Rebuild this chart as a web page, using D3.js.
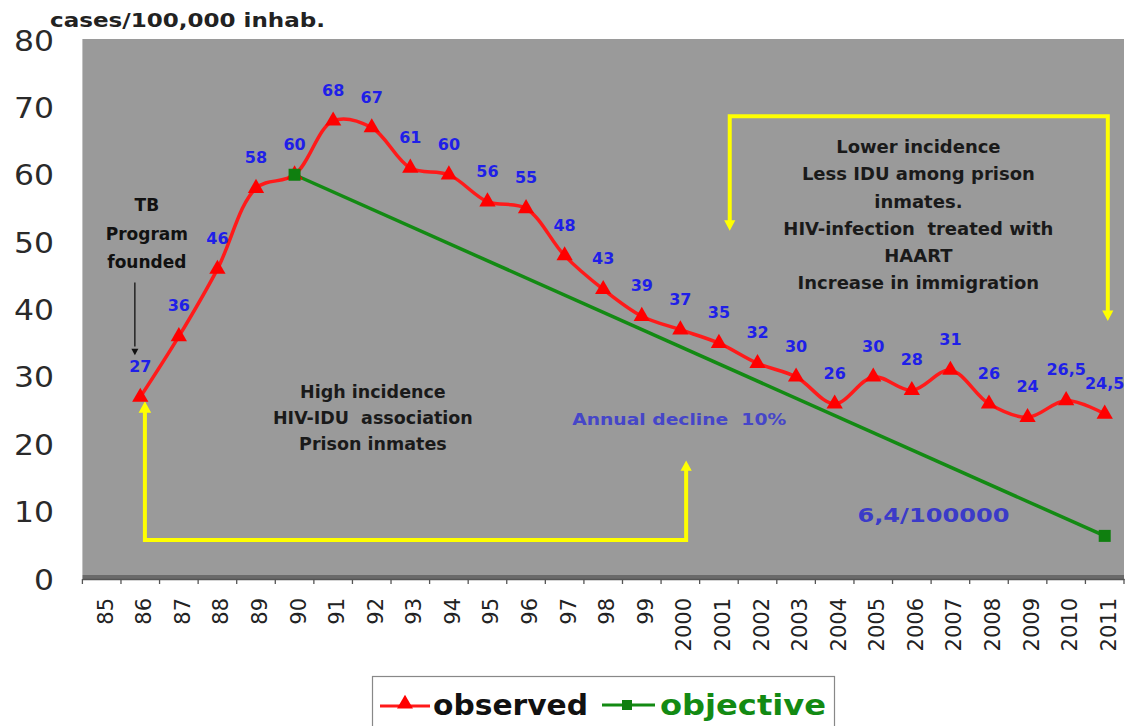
<!DOCTYPE html>
<html>
<head>
<meta charset="utf-8">
<script src="https://cdn.jsdelivr.net/npm/d3@7/dist/d3.min.js"></script>
<style>
  html, body { margin: 0; padding: 0; background: #ffffff; }
  svg { display: block; }
  text { font-family: "DejaVu Sans", Verdana, sans-serif; white-space: pre; }
</style>
</head>
<body>
<svg id="chart" width="1134" height="726"></svg>
<script>
// ---- Data ----
const years = ["85","86","87","88","89","90","91","92","93","94","95","96","97","98","99",
               "2000","2001","2002","2003","2004","2005","2006","2007","2008","2009","2010","2011"];
const observedYears = ["86","87","88","89","90","91","92","93","94","95","96","97","98","99",
               "2000","2001","2002","2003","2004","2005","2006","2007","2008","2009","2010","2011"];
const observedValues = [27,36,46,58,60,68,67,61,60,56,55,48,43,39,37,35,32,30,26,30,28,31,26,24,26.5,24.5];
const observedLabels = ["27","36","46","58","60","68","67","61","60","56","55","48","43","39","37","35","32","30","26","30","28","31","26","24","26,5","24,5"];
const objectiveYears = ["90","2011"];
const objectiveValues = [60, 6.4];
const yTicks = [0,10,20,30,40,50,60,70,80];

// ---- Layout ----
const svg = d3.select("#chart");
const plot = { left: 82.4, right: 1124, top: 40, bottom: 579 };

const x = d3.scaleBand().domain(years).range([plot.left, plot.right]).padding(0);
const xc = d => x(d) + x.bandwidth() / 2;
// index-based helper for annotations (category index, fractional)
const xi = i => plot.left + x.bandwidth() * (i + 0.5);
const y = d3.scaleLinear().domain([0, 80]).range([plot.bottom, plot.top]);

// Plot background
svg.append("rect")
  .attr("x", plot.left).attr("y", plot.top - 1)
  .attr("width", plot.right - plot.left).attr("height", plot.bottom - plot.top - 3)
  .attr("fill", "#9a9a9a");

// bottom axis line (dark band) + ticks
svg.append("rect")
  .attr("x", plot.left).attr("y", plot.bottom - 4)
  .attr("width", plot.right - plot.left).attr("height", 4)
  .attr("fill", "#6a6a6a");
const xAxis = d3.axisBottom(x).tickSize(0).tickFormat("");
const xAxisG = svg.append("g").attr("transform", `translate(0,${plot.bottom})`).call(xAxis);
xAxisG.select(".domain").attr("stroke", "#555").attr("stroke-width", 1.5);
// boundary ticks
const bounds = years.map(d => x(d)).concat([plot.right]);
svg.append("g").selectAll("line").data(bounds).join("line")
  .attr("x1", d => d).attr("x2", d => d)
  .attr("y1", plot.bottom).attr("y2", plot.bottom + 5)
  .attr("stroke", "#555").attr("stroke-width", 1.3);

// x labels rotated
svg.append("g").selectAll("text").data(years).join("text")
  .attr("transform", d => `translate(${xc(d) + 11},598) rotate(-90)`)
  .attr("text-anchor", "end")
  .attr("font-size", 21)
  .attr("fill", "#222")
  .text(d => d);

// y labels
const yAxis = d3.axisLeft(y).tickValues(yTicks).tickSize(0).tickPadding(0);
const yAxisG = svg.append("g").attr("transform", `translate(54,0)`).call(yAxis);
yAxisG.select(".domain").remove();
yAxisG.selectAll("text")
  .attr("font-family", "Liberation Sans, Arial, sans-serif")
  .attr("font-size", 28)
  .attr("fill", "#2a2a2a")
  .attr("dy", "0.36em")
  .attr("textLength", d => String(d).length * 20)
  .attr("lengthAdjust", "spacingAndGlyphs");

// Title
svg.append("text")
  .attr("x", 50).attr("y", 27)
  .attr("font-size", 20).attr("font-weight", "bold").attr("fill", "#222")
  .attr("textLength", 275).attr("lengthAdjust", "spacingAndGlyphs")
  .text("cases/100,000 inhab.");

// ---- Annotations (yellow brackets) ----
const yellow = "#ffff00";
function arrowHead(g, px, py, dir, color, size) {
  const s = size || 9;
  const pts = dir === "up"
    ? [[px, py], [px - s * 0.7, py + s * 1.3], [px + s * 0.7, py + s * 1.3]]
    : [[px, py], [px - s * 0.7, py - s * 1.3], [px + s * 0.7, py - s * 1.3]];
  g.append("polygon").attr("points", pts.map(p => p.join(",")).join(" ")).attr("fill", color);
}
const ann = svg.append("g");
// lower-left bracket
ann.append("path")
  .attr("d", d3.line()([[xi(1.12), y(25)], [xi(1.12), y(5.8)], [xi(15.15), y(5.8)], [xi(15.15), y(16.4)]]))
  .attr("fill", "none").attr("stroke", yellow).attr("stroke-width", 4);
arrowHead(ann, xi(1.12), y(26.4), "up", yellow, 9);
arrowHead(ann, xi(15.15), y(17.6), "up", yellow, 8);
// upper-right bracket
ann.append("path")
  .attr("d", d3.line()([[xi(16.28), y(53)], [xi(16.28), y(68.7)], [xi(26.08), y(68.7)], [xi(26.08), y(39.5)]]))
  .attr("fill", "none").attr("stroke", yellow).attr("stroke-width", 4);
arrowHead(ann, xi(16.28), y(51.7), "down", yellow, 8);
arrowHead(ann, xi(26.08), y(38.3), "down", yellow, 8);

// TB arrow (black)
ann.append("line")
  .attr("x1", xi(0.86)).attr("x2", xi(0.86))
  .attr("y1", y(44)).attr("y2", y(34.5))
  .attr("stroke", "#111").attr("stroke-width", 1.3);
arrowHead(ann, xi(0.86), y(33.2), "down", "#111", 5);

// ---- Objective line ----
const objData = objectiveYears.map((d, i) => ({ year: d, v: objectiveValues[i] }));
svg.append("path")
  .datum(objData)
  .attr("d", d3.line().x(d => xc(d.year)).y(d => y(d.v)))
  .attr("fill", "none").attr("stroke", "#138a13").attr("stroke-width", 3.5);

// ---- Observed line ----
const obsData = observedYears.map((d, i) => ({ year: d, v: observedValues[i], label: observedLabels[i] }));
svg.append("path")
  .datum(obsData)
  .attr("d", d3.line().x(d => xc(d.year)).y(d => y(d.v)).curve(d3.curveCatmullRom.alpha(0.5)))
  .attr("fill", "none").attr("stroke", "#ff1a1a").attr("stroke-width", 3.5);

const tri = d3.symbol().type(d3.symbolTriangle).size(115);
svg.append("g").selectAll("path").data(obsData).join("path")
  .attr("transform", d => `translate(${xc(d.year)},${y(d.v)})`)
  .attr("d", tri)
  .attr("fill", "#ff0000");

svg.append("g").selectAll("rect").data(objData).join("rect")
  .attr("x", d => xc(d.year) - 6).attr("y", d => y(d.v) - 6)
  .attr("width", 12).attr("height", 12)
  .attr("fill", "#0f7f0f");

// value labels
svg.append("g").selectAll("text").data(obsData).join("text")
  .attr("x", d => xc(d.year))
  .attr("y", d => y(d.v) - 25)
  .attr("text-anchor", "middle")
  .attr("font-size", 16).attr("font-weight", "bold")
  .attr("fill", "#1f1fe8")
  .text(d => d.label);

// ---- Text annotations ----
function multiline(lines, cx, y0, dy, size, color, weight) {
  const t = svg.append("text").attr("text-anchor", "middle")
    .attr("font-size", size).attr("font-weight", weight || "bold").attr("fill", color);
  lines.forEach((l, i) => {
    t.append("tspan").attr("x", cx).attr("y", y0 + i * dy).text(l);
  });
}
multiline(["TB", "Program", "founded"], xi(1.17), y(54.6), 28.5, 17, "#111");
multiline(["High incidence", "HIV-IDU  association", "Prison inmates"], xi(7.03), y(26.8), 26, 17.5, "#1a1a1a");
multiline(["Lower incidence", "Less IDU among prison", "inmates.", "HIV-infection  treated with", "HAART", "Increase in immigration"],
          xi(21.17), y(63.2), 27.2, 18, "#1a1a1a");

svg.append("text")
  .attr("x", xi(14.97)).attr("y", y(22.9))
  .attr("text-anchor", "middle")
  .attr("font-size", 16).attr("font-weight", "bold").attr("fill", "#4646c8")
  .attr("textLength", 214).attr("lengthAdjust", "spacingAndGlyphs")
  .text("Annual decline  10%");

svg.append("text")
  .attr("x", xi(21.56)).attr("y", y(8.5))
  .attr("text-anchor", "middle")
  .attr("font-size", 20).attr("font-weight", "bold").attr("fill", "#3b3bc8")
  .attr("textLength", 152).attr("lengthAdjust", "spacingAndGlyphs")
  .text("6,4/100000");

// ---- Legend ----
const lg = svg.append("g");
lg.append("rect").attr("x", 372.5).attr("y", 676.5).attr("width", 462).attr("height", 70)
  .attr("fill", "#fff").attr("stroke", "#888").attr("stroke-width", 1.2);
lg.append("line").attr("x1", 380).attr("x2", 430).attr("y1", 706).attr("y2", 706)
  .attr("stroke", "#ff1a1a").attr("stroke-width", 3);
lg.append("path").attr("transform", "translate(405,704)").attr("d", d3.symbol().type(d3.symbolTriangle).size(110)).attr("fill", "#ff0000");
lg.append("text").attr("x", 433).attr("y", 715).attr("font-size", 28).attr("font-weight", "bold").attr("fill", "#111")
  .attr("textLength", 155).attr("lengthAdjust", "spacingAndGlyphs").text("observed");
lg.append("line").attr("x1", 602).attr("x2", 655).attr("y1", 705).attr("y2", 705)
  .attr("stroke", "#138a13").attr("stroke-width", 3);
lg.append("rect").attr("x", 622).attr("y", 700).attr("width", 10).attr("height", 10).attr("fill", "#0f7f0f");
lg.append("text").attr("x", 660).attr("y", 715).attr("font-size", 28).attr("font-weight", "bold").attr("fill", "#138a13")
  .attr("textLength", 166).attr("lengthAdjust", "spacingAndGlyphs").text("objective");
</script>
</body>
</html>
